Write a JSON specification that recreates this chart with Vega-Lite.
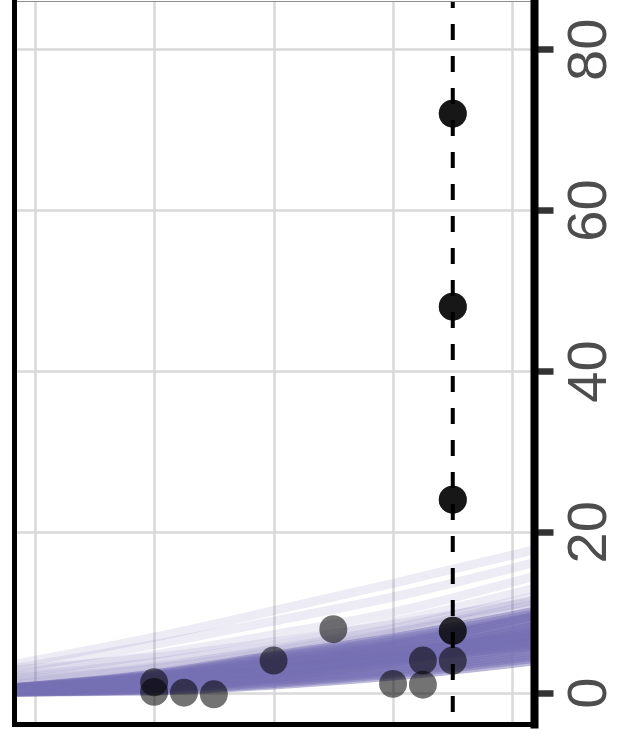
{
 "$schema": "https://vega.github.io/schema/vega-lite/v6.json",
 "width": 520,
 "height": 723,
 "autosize": {"type": "none"},
 "padding": {"left": 14, "top": 1, "right": 83, "bottom": 14},
 "background": "white",
 "config": {"view": {"stroke": null}, "font": "Liberation Sans"},
 "datasets": {
  "faint": [
   {"c":"f1","x":-0.18,"y":3.5},{"c":"f1","x":1,"y":6.9},{"c":"f1","x":2,"y":10.2},{"c":"f1","x":3,"y":13.6},{"c":"f1","x":4.19,"y":17.8},
   {"c":"f2","x":-0.18,"y":3.0},{"c":"f2","x":1,"y":6.0},{"c":"f2","x":2,"y":8.9},{"c":"f2","x":3,"y":11.9},{"c":"f2","x":4.19,"y":16.2},
   {"c":"f3","x":-0.18,"y":2.4},{"c":"f3","x":1,"y":4.7},{"c":"f3","x":2,"y":7.2},{"c":"f3","x":3,"y":10.0},{"c":"f3","x":4.19,"y":14.5},
   {"c":"f4","x":-0.18,"y":2.0},{"c":"f4","x":1,"y":3.8},{"c":"f4","x":2,"y":6.0},{"c":"f4","x":3,"y":8.8},{"c":"f4","x":4.19,"y":13.0},
   {"c":"f5","x":-0.18,"y":1.6},{"c":"f5","x":1,"y":3.2},{"c":"f5","x":2,"y":5.4},{"c":"f5","x":3,"y":8.0},{"c":"f5","x":4.19,"y":12.0},
   {"c":"f6","x":-0.18,"y":1.3},{"c":"f6","x":1,"y":3.0},{"c":"f6","x":2,"y":5.1},{"c":"f6","x":3,"y":7.6},{"c":"f6","x":4.19,"y":11.6},
   {"c":"f7","x":-0.18,"y":2.8},{"c":"f7","x":1,"y":4.4},{"c":"f7","x":2,"y":6.3},{"c":"f7","x":3,"y":8.5},{"c":"f7","x":4.19,"y":11.4},
   {"c":"f8","x":-0.18,"y":1.0},{"c":"f8","x":1,"y":2.6},{"c":"f8","x":2,"y":4.8},{"c":"f8","x":3,"y":7.4},{"c":"f8","x":4.19,"y":11.0},
   {"c":"f9","x":-0.18,"y":1.8},{"c":"f9","x":1,"y":3.3},{"c":"f9","x":2,"y":5.2},{"c":"f9","x":3,"y":7.4},{"c":"f9","x":4.19,"y":10.6}
  ],
  "dense": [
   {"c":"d0","x":-0.18,"y":0},{"c":"d0","x":1,"y":0.15},{"c":"d0","x":2,"y":0.9},{"c":"d0","x":3,"y":2.0},{"c":"d0","x":4.19,"y":3.9},
   {"c":"d1","x":-0.18,"y":0.035},{"c":"d1","x":1,"y":0.26},{"c":"d1","x":2,"y":1.09},{"c":"d1","x":3,"y":2.25},{"c":"d1","x":4.19,"y":4.22},
   {"c":"d2","x":-0.18,"y":0.07},{"c":"d2","x":1,"y":0.38},{"c":"d2","x":2,"y":1.28},{"c":"d2","x":3,"y":2.49},{"c":"d2","x":4.19,"y":4.53},
   {"c":"d3","x":-0.18,"y":0.105},{"c":"d3","x":1,"y":0.49},{"c":"d3","x":2,"y":1.47},{"c":"d3","x":3,"y":2.74},{"c":"d3","x":4.19,"y":4.85},
   {"c":"d4","x":-0.18,"y":0.14},{"c":"d4","x":1,"y":0.6},{"c":"d4","x":2,"y":1.66},{"c":"d4","x":3,"y":2.98},{"c":"d4","x":4.19,"y":5.16},
   {"c":"d5","x":-0.18,"y":0.175},{"c":"d5","x":1,"y":0.71},{"c":"d5","x":2,"y":1.85},{"c":"d5","x":3,"y":3.23},{"c":"d5","x":4.19,"y":5.48},
   {"c":"d6","x":-0.18,"y":0.21},{"c":"d6","x":1,"y":0.83},{"c":"d6","x":2,"y":2.04},{"c":"d6","x":3,"y":3.47},{"c":"d6","x":4.19,"y":5.79},
   {"c":"d7","x":-0.18,"y":0.245},{"c":"d7","x":1,"y":0.94},{"c":"d7","x":2,"y":2.23},{"c":"d7","x":3,"y":3.72},{"c":"d7","x":4.19,"y":6.11},
   {"c":"d8","x":-0.18,"y":0.28},{"c":"d8","x":1,"y":1.05},{"c":"d8","x":2,"y":2.42},{"c":"d8","x":3,"y":3.96},{"c":"d8","x":4.19,"y":6.42},
   {"c":"d9","x":-0.18,"y":0.315},{"c":"d9","x":1,"y":1.16},{"c":"d9","x":2,"y":2.61},{"c":"d9","x":3,"y":4.21},{"c":"d9","x":4.19,"y":6.74},
   {"c":"d10","x":-0.18,"y":0.35},{"c":"d10","x":1,"y":1.28},{"c":"d10","x":2,"y":2.8},{"c":"d10","x":3,"y":4.45},{"c":"d10","x":4.19,"y":7.05},
   {"c":"d11","x":-0.18,"y":0.385},{"c":"d11","x":1,"y":1.39},{"c":"d11","x":2,"y":2.99},{"c":"d11","x":3,"y":4.70},{"c":"d11","x":4.19,"y":7.37},
   {"c":"d12","x":-0.18,"y":0.42},{"c":"d12","x":1,"y":1.5},{"c":"d12","x":2,"y":3.18},{"c":"d12","x":3,"y":4.94},{"c":"d12","x":4.19,"y":7.68},
   {"c":"d13","x":-0.18,"y":0.455},{"c":"d13","x":1,"y":1.61},{"c":"d13","x":2,"y":3.37},{"c":"d13","x":3,"y":5.19},{"c":"d13","x":4.19,"y":8.0},
   {"c":"d14","x":-0.18,"y":0.49},{"c":"d14","x":1,"y":1.73},{"c":"d14","x":2,"y":3.56},{"c":"d14","x":3,"y":5.43},{"c":"d14","x":4.19,"y":8.31},
   {"c":"d15","x":-0.18,"y":0.525},{"c":"d15","x":1,"y":1.84},{"c":"d15","x":2,"y":3.75},{"c":"d15","x":3,"y":5.68},{"c":"d15","x":4.19,"y":8.63},
   {"c":"d16","x":-0.18,"y":0.56},{"c":"d16","x":1,"y":1.95},{"c":"d16","x":2,"y":3.94},{"c":"d16","x":3,"y":5.92},{"c":"d16","x":4.19,"y":8.94},
   {"c":"d17","x":-0.18,"y":0.595},{"c":"d17","x":1,"y":2.06},{"c":"d17","x":2,"y":4.13},{"c":"d17","x":3,"y":6.17},{"c":"d17","x":4.19,"y":9.26},
   {"c":"d18","x":-0.18,"y":0.63},{"c":"d18","x":1,"y":2.18},{"c":"d18","x":2,"y":4.32},{"c":"d18","x":3,"y":6.41},{"c":"d18","x":4.19,"y":9.57},
   {"c":"d19","x":-0.18,"y":0.665},{"c":"d19","x":1,"y":2.29},{"c":"d19","x":2,"y":4.51},{"c":"d19","x":3,"y":6.66},{"c":"d19","x":4.19,"y":9.89},
   {"c":"d20","x":-0.18,"y":0.7},{"c":"d20","x":1,"y":2.4},{"c":"d20","x":2,"y":4.7},{"c":"d20","x":3,"y":6.9},{"c":"d20","x":4.19,"y":10.2},
   {"c":"c1","x":-0.18,"y":0.56},{"c":"c1","x":1,"y":1.65},{"c":"c1","x":2,"y":2.99},{"c":"c1","x":3,"y":4.14},{"c":"c1","x":4.19,"y":5.79},
   {"c":"c2","x":-0.18,"y":0.14},{"c":"c2","x":1,"y":0.9},{"c":"c2","x":2,"y":2.61},{"c":"c2","x":3,"y":4.77},{"c":"c2","x":4.19,"y":8.31},
   {"c":"c3","x":-0.18,"y":0.42},{"c":"c3","x":1,"y":1.38},{"c":"c3","x":2,"y":2.8},{"c":"c3","x":3,"y":4.22},{"c":"c3","x":4.19,"y":6.42},
   {"c":"c4","x":-0.18,"y":0.28},{"c":"c4","x":1,"y":1.17},{"c":"c4","x":2,"y":2.8},{"c":"c4","x":3,"y":4.68},{"c":"c4","x":4.19,"y":7.68},
   {"c":"c5","x":-0.18,"y":0.7},{"c":"c5","x":1,"y":2.1},{"c":"c5","x":2,"y":3.75},{"c":"c5","x":3,"y":5.12},{"c":"c5","x":4.19,"y":7.05},
   {"c":"c6","x":-0.18,"y":0},{"c":"c6","x":1,"y":0.45},{"c":"c6","x":2,"y":1.85},{"c":"c6","x":3,"y":3.79},{"c":"c6","x":4.19,"y":7.05},
   {"c":"c7","x":-0.18,"y":0.35},{"c":"c7","x":1,"y":1.52},{"c":"c7","x":2,"y":3.56},{"c":"c7","x":3,"y":5.88},{"c":"c7","x":4.19,"y":9.57},
   {"c":"c8","x":-0.18,"y":0.21},{"c":"c8","x":1,"y":0.95},{"c":"c8","x":2,"y":2.42},{"c":"c8","x":3,"y":4.19},{"c":"c8","x":4.19,"y":7.05},
   {"c":"c9","x":-0.18,"y":0.49},{"c":"c9","x":1,"y":1.51},{"c":"c9","x":2,"y":2.9},{"c":"c9","x":3,"y":4.18},{"c":"c9","x":4.19,"y":6.11},
   {"c":"c10","x":-0.18,"y":0.315},{"c":"c10","x":1,"y":1.22},{"c":"c10","x":2,"y":2.8},{"c":"c10","x":3,"y":4.56},{"c":"c10","x":4.19,"y":7.37}
  ],
  "pts": [
   {"x":1,"y":1.3},{"x":1,"y":0.1},{"x":1.25,"y":0.0},{"x":1.5,"y":-0.2},
   {"x":2,"y":4.0},{"x":2.5,"y":7.9},{"x":3,"y":1.1},{"x":3.25,"y":4.0},{"x":3.25,"y":1.0},
   {"x":3.5,"y":4.0},{"x":3.5,"y":7.7},{"x":3.5,"y":7.7},
   {"x":3.5,"y":24},{"x":3.5,"y":24},{"x":3.5,"y":24},
   {"x":3.5,"y":48},{"x":3.5,"y":48},{"x":3.5,"y":48},
   {"x":3.5,"y":72},{"x":3.5,"y":72},{"x":3.5,"y":72}
  ],
  "rule": [{"x":3.5}]
 },
 "resolve": {"axis": {"x": "independent", "y": "independent"}},
 "layer": [
  {
   "data": {"name": "faint"},
   "mark": {"type": "line", "color": "#7570b3", "opacity": 0.13, "strokeWidth": 9, "interpolate": "monotone", "clip": true},
   "encoding": {
    "x": {"field": "x", "type": "quantitative", "scale": {"domain": [-0.173, 4.18], "nice": false, "zero": false},
          "axis": {"orient": "bottom", "values": [0,1,2,3,4], "grid": true, "gridColor": "#d9d9d9", "gridWidth": 2.5, "domain": false, "ticks": false, "labels": false, "title": null, "zindex": 0}},
    "y": {"field": "y", "type": "quantitative", "scale": {"domain": [-3.89, 86.0], "nice": false, "zero": false},
          "axis": {"orient": "left", "values": [0,20,40,60,80], "grid": true, "gridColor": "#d9d9d9", "gridWidth": 2.5, "domain": false, "ticks": false, "labels": false, "title": null, "zindex": 0}},
    "detail": {"field": "c"}
   }
  },
  {
   "data": {"name": "dense"},
   "mark": {"type": "line", "color": "#7570b3", "opacity": 0.5, "strokeWidth": 8, "interpolate": "monotone", "clip": true},
   "encoding": {
    "x": {"field": "x", "type": "quantitative", "scale": {"domain": [-0.173, 4.18], "nice": false, "zero": false},
          "axis": {"orient": "bottom", "grid": false, "domain": true, "domainColor": "black", "domainWidth": 5, "domainCap": "square", "ticks": false, "labels": false, "title": null, "zindex": 1}},
    "y": {"field": "y", "type": "quantitative", "scale": {"domain": [-3.89, 86.0], "nice": false, "zero": false},
          "axis": {"orient": "left", "grid": false, "domain": true, "domainColor": "black", "domainWidth": 5, "domainCap": "square", "ticks": false, "labels": false, "title": null, "zindex": 1}},
    "detail": {"field": "c"}
   }
  },
  {
   "data": {"name": "pts"},
   "mark": {"type": "circle", "size": 780, "color": "black", "opacity": 0.55},
   "encoding": {
    "x": {"field": "x", "type": "quantitative", "scale": {"domain": [-0.173, 4.18], "nice": false, "zero": false},
          "axis": {"orient": "top", "grid": false, "domain": true, "domainColor": "#8c8c8c", "domainWidth": 1, "ticks": false, "labels": false, "title": null, "zindex": 1}},
    "y": {"field": "y", "type": "quantitative", "scale": {"domain": [-3.89, 86.0], "nice": false, "zero": false},
          "axis": {"orient": "right", "values": [0,20,40,60,80], "grid": false, "domain": true, "domainColor": "black", "domainWidth": 8, "domainCap": "square",
                   "ticks": true, "tickColor": "#333333", "tickWidth": 6.5, "tickSize": 19,
                   "labels": true, "labelFont": "Liberation Sans", "labelFontSize": 56, "labelColor": "#4d4d4d", "labelAngle": 270, "labelAlign": "center", "labelBaseline": "top", "labelPadding": 8, "labelFlush": false, "labelOverlap": false, "labelBound": false,
                   "title": null, "zindex": 1}}
   }
  },
  {
   "data": {"name": "rule"},
   "mark": {"type": "rule", "color": "black", "strokeWidth": 4, "strokeDash": [16, 16], "strokeDashOffset": 9},
   "encoding": {
    "x": {"field": "x", "type": "quantitative", "axis": null}
   }
  }
 ]
}
